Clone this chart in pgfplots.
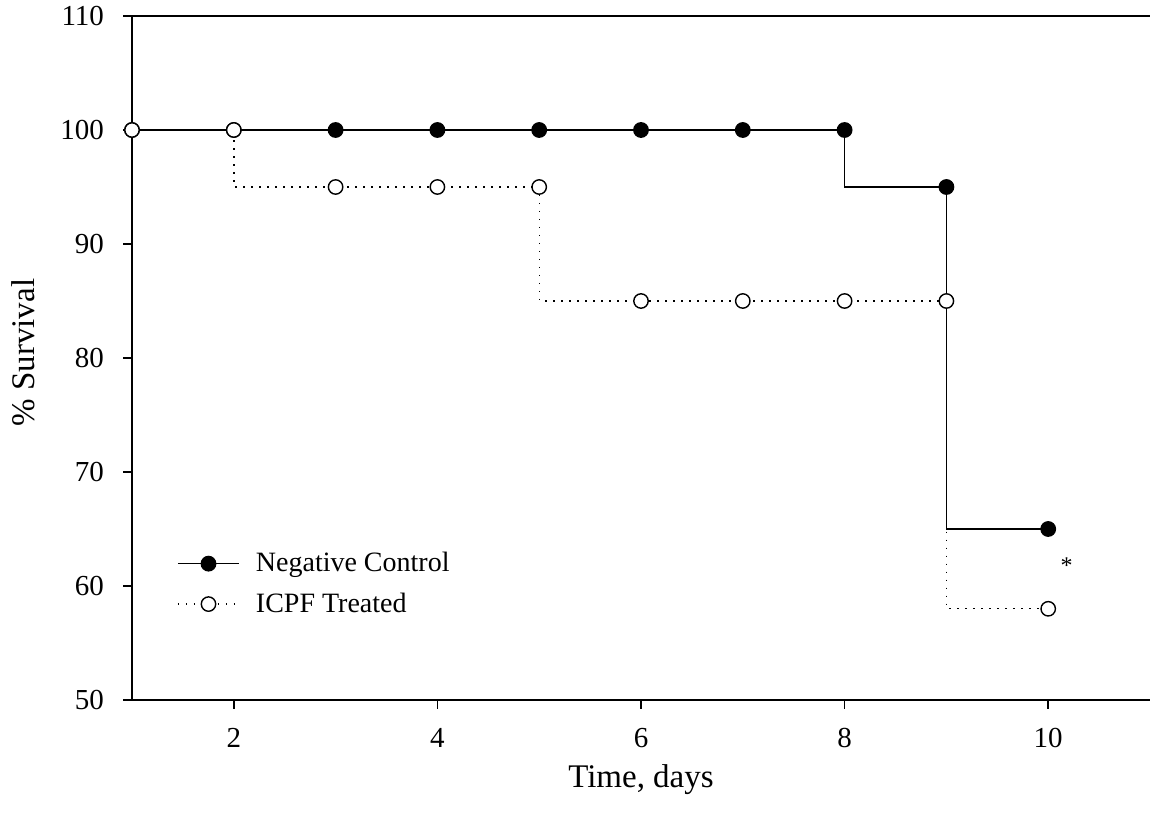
\documentclass[border=0pt]{standalone}
\usepackage{pgfplots}
\pgfplotsset{compat=1.18}
\usepackage{fontspec}
\setmainfont{Liberation Serif}
\begin{document}
\begin{tikzpicture}
\useasboundingbox (-66pt,-61pt) rectangle (509pt,350pt);
\begin{axis}[
  at={(0,0)}, anchor=south west,
  scale only axis, width=509pt, height=342pt,
  xmin=1, xmax=11, ymin=50, ymax=110,
  axis lines=left,
  axis line style={-, line width=0.8pt},
  tick align=outside,
  major tick length=4.5pt,
  tick style={line width=0.8pt, black},
  xtick={2,4,6,8,10},
  ytick={50,60,70,80,90,100,110},
  /pgf/number format/assume math mode=true,
  ticklabel style={font=\fontsize{14.5}{17}\selectfont},
  xticklabel style={yshift=-6pt},
  yticklabel style={xshift=-6pt},
  xlabel={Time, days},
  ylabel={\% Survival},
  label style={font=\fontsize{16.5}{19}\selectfont},
  xlabel style={at={(axis description cs:0.5,0)}, anchor=center, yshift=-40pt},
  ylabel style={at={(axis description cs:-0.107,0.508)}, anchor=center},
  clip=false,
  legend style={draw=none, fill=none, at={(rel axis cs:0.038,0.228)}, anchor=north west,
    font=\fontsize{14}{16}\selectfont, row sep=5pt, cells={anchor=west},
    /tikz/every odd column/.append style={column sep=6pt}},
  legend image code/.code={\draw[mark repeat=2,mark phase=2,#1] plot coordinates {(0cm,0cm)(0.54cm,0cm)(1.08cm,0cm)};},
]
\addplot[const plot mark right, black, line width=0.7pt, mark=*, mark size=3.6pt, mark options={solid}]
  coordinates {(1,100)(2,100)(3,100)(4,100)(5,100)(6,100)(7,100)(8,100)(9,95)(10,65)};
\addlegendentry{Negative Control}
\addplot[const plot mark right, black, line width=0.7pt, dash pattern=on 0.8pt off 3.2pt, mark=*, mark size=3.6pt, mark options={solid, fill=white, draw=black}]
  coordinates {(1,100)(2,100)(3,95)(4,95)(5,95)(6,85)(7,85)(8,85)(9,85)(10,58)};
\addlegendentry{ICPF Treated}
\draw[line width=0.8pt] (rel axis cs:0,1) -- (rel axis cs:1,1);
\node[font=\fontsize{12}{14}\selectfont] at (axis cs:10.18,61.8) {*};
\end{axis}
\end{tikzpicture}
\end{document}
